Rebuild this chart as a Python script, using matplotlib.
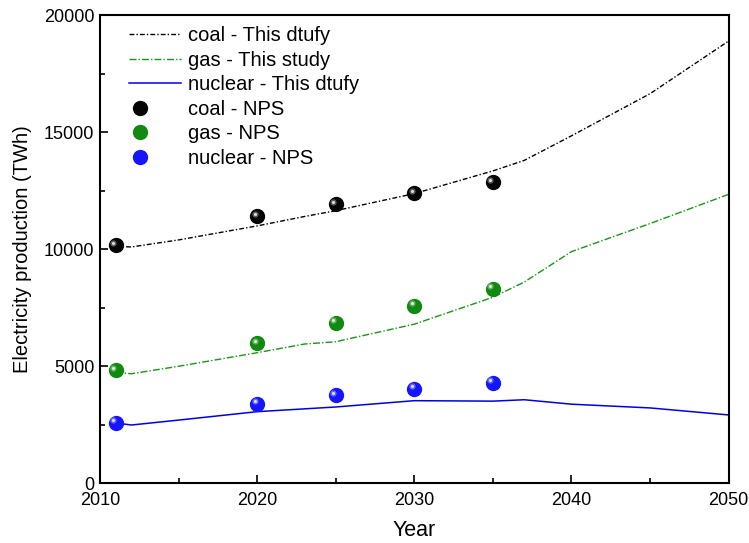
import numpy as np
import matplotlib.pyplot as plt
import matplotlib.transforms as mtransforms
from matplotlib.lines import Line2D
from matplotlib.legend_handler import HandlerTuple

plt.rcParams['font.family'] = ['Liberation Sans', 'DejaVu Sans']

# model curves ("This study")
line_years = [2011, 2012, 2015, 2020, 2023, 2025, 2030, 2035, 2037, 2040, 2045, 2050]
coal_line = [10120, 10100, 10400, 11000, 11400, 11650, 12380, 13350, 13800, 14850, 16650, 18900]
gas_line = [4750, 4680, 5000, 5580, 5950, 6050, 6800, 7950, 8600, 9900, 11100, 12350]
nuclear_line = [2580, 2490, 2700, 3060, 3180, 3260, 3530, 3510, 3570, 3380, 3220, 2920]

# NPS scenario points
nps_years = [2011, 2020, 2025, 2030, 2035]
coal_nps = [10180, 11420, 11920, 12390, 12860]
gas_nps = [4840, 5990, 6860, 7590, 8310]
nuclear_nps = [2580, 3400, 3760, 4040, 4300]

fig = plt.figure(figsize=(7.49, 5.43), dpi=100)
ax = fig.add_axes([0.1335, 0.11, 0.8393, 0.8618])

ax.plot(line_years, coal_line, color='black', lw=1.0, dashes=[3.5, 1.5, 1, 1.5],
        label='coal - This dtufy')
ax.plot(line_years, gas_line, color='#139a13', lw=1.0, dashes=[5, 1.5, 1, 1.5],
        label='gas - This study')
ax.plot(line_years, nuclear_line, color='#0000ee', lw=1.1, label='nuclear - This dtufy')

# sphere-like markers: coloured ball plus a small highlight
hl = mtransforms.offset_copy(ax.transData, fig=fig, x=-1.8, y=1.8, units='points')
ball_handles = []
for vals, col, lab in [(coal_nps, '#050505', 'coal - NPS'),
                       (gas_nps, '#108a10', 'gas - NPS'),
                       (nuclear_nps, '#1515ff', 'nuclear - NPS')]:
    ax.plot(nps_years, vals, 'o', ms=10, color=col, mec=col, zorder=3)
    ax.plot(nps_years, vals, 'o', ms=4.5, color='white', alpha=0.35, mew=0,
            transform=hl, zorder=4)
    ax.plot(nps_years, vals, 'o', ms=2.2, color='white', alpha=0.8, mew=0,
            transform=hl, zorder=5)
    h1 = Line2D([], [], ls='none', marker='o', ms=10, color=col)
    h2 = Line2D([], [], ls='none', marker='o', ms=3, color='white', alpha=0.7, mew=0)
    ball_handles.append(((h1, h2), lab))

ax.set_xlim(2010, 2050)
ax.set_ylim(0, 20000)
ax.set_xticks([2010, 2020, 2030, 2040, 2050])
ax.set_xticks([2015, 2025, 2035, 2045], minor=True)
ax.set_yticks([0, 5000, 10000, 15000, 20000])
ax.set_yticks([2500, 7500, 12500, 17500], minor=True)
ax.tick_params(which='both', direction='in', width=1.2, labelsize=13)
ax.tick_params(axis='x', which='major', pad=6)
ax.tick_params(axis='y', which='major', pad=4)
ax.tick_params(which='major', length=6)
ax.tick_params(which='minor', length=3.5)
for s in ax.spines.values():
    s.set_linewidth(1.5)

ax.set_xlabel('Year', fontsize=15.5, labelpad=8)
ax.set_ylabel('Electricity production (TWh)', fontsize=14.5, labelpad=8.5)

lh, ll = ax.get_legend_handles_labels()
lh += [b[0] for b in ball_handles]
ll += [b[1] for b in ball_handles]
ax.legend(lh, ll, loc='upper left', frameon=False, fontsize=14.5,
          handlelength=2.6, handletextpad=0.3, labelspacing=0.27,
          borderaxespad=0.15, bbox_to_anchor=(0.0287, 1.0),
          handler_map={tuple: HandlerTuple(ndivide=None)})

fig.savefig('out.png', dpi=100)
